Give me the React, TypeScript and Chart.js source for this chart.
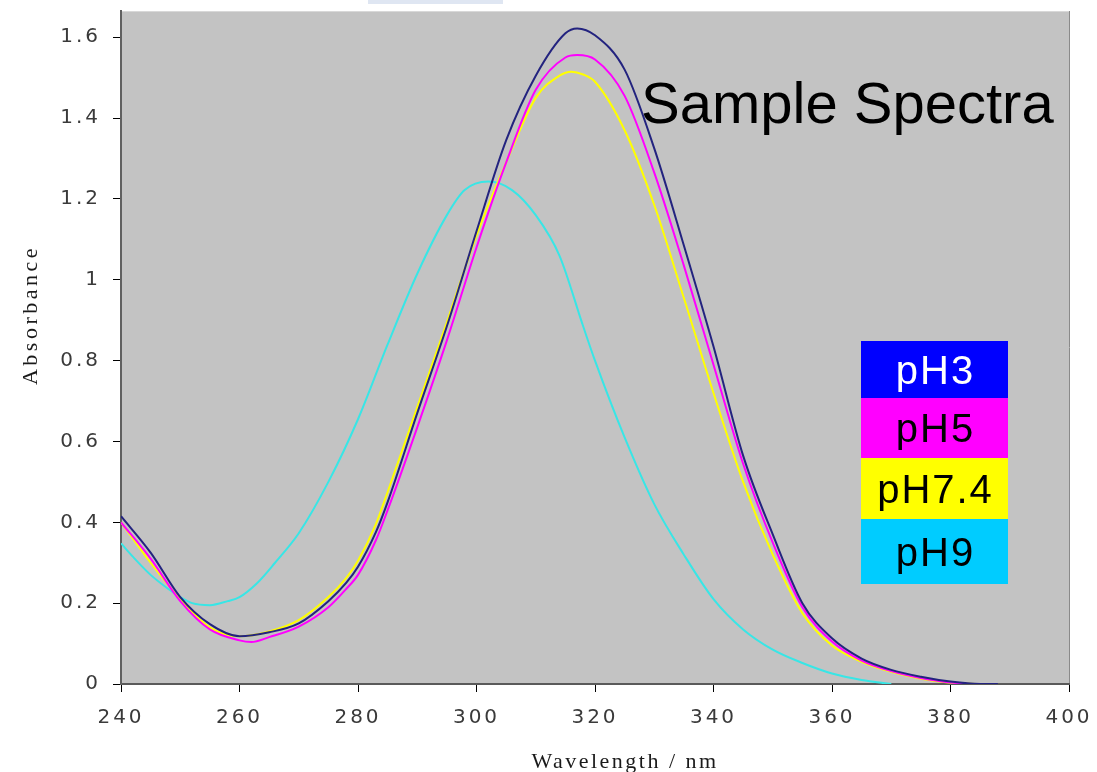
import React, { useEffect, useRef } from "react";
import { Chart, registerables } from "chart.js";

Chart.register(...registerables);

// ---- data ----
const wlPH3 = [240, 245, 250, 255, 260, 265, 270, 275, 278, 280, 283, 285, 290, 295, 300, 305, 310, 315, 317, 320, 325, 330, 335, 340, 345, 350, 355, 360, 365, 370, 375, 380, 385, 388];
const absPH3 = [0.415, 0.325, 0.215, 0.148, 0.118, 0.128, 0.15, 0.205, 0.25, 0.29, 0.375, 0.45, 0.67, 0.885, 1.12, 1.345, 1.505, 1.61, 1.622, 1.605, 1.52, 1.325, 1.085, 0.835, 0.565, 0.37, 0.2, 0.113, 0.063, 0.035, 0.018, 0.006, 0.0, 0.0];

const wlPH5 = [240, 245, 250, 255, 260, 262, 265, 270, 275, 278, 280, 283, 285, 290, 295, 300, 305, 310, 315, 317, 320, 325, 330, 335, 340, 345, 350, 355, 360, 365, 370, 375, 380, 383];
const absPH5 = [0.4, 0.31, 0.205, 0.135, 0.108, 0.104, 0.116, 0.142, 0.19, 0.235, 0.27, 0.355, 0.43, 0.635, 0.85, 1.08, 1.29, 1.47, 1.55, 1.556, 1.545, 1.455, 1.265, 1.035, 0.79, 0.545, 0.35, 0.19, 0.105, 0.058, 0.032, 0.015, 0.004, 0.0];

const wlPH74 = [240, 245, 250, 255, 260, 265, 270, 275, 278, 280, 283, 285, 290, 295, 300, 305, 310, 314, 316, 318, 320, 325, 330, 335, 340, 345, 350, 355, 360, 365, 370, 375, 380, 385];
const absPH74 = [0.4, 0.3, 0.21, 0.14, 0.118, 0.13, 0.158, 0.215, 0.262, 0.305, 0.395, 0.475, 0.685, 0.895, 1.11, 1.29, 1.45, 1.505, 1.515, 1.508, 1.49, 1.37, 1.185, 0.955, 0.72, 0.5, 0.32, 0.175, 0.095, 0.055, 0.03, 0.013, 0.003, 0.0];

const wlPH9 = [240, 242, 245, 248, 250, 252, 255, 258, 260, 263, 266, 270, 275, 280, 285, 290, 295, 298, 302, 306, 310, 314, 318, 320, 325, 330, 335, 340, 345, 350, 355, 360, 365, 370];
const absPH9 = [0.348, 0.315, 0.27, 0.235, 0.215, 0.2, 0.195, 0.205, 0.215, 0.25, 0.3, 0.373, 0.5, 0.655, 0.84, 1.015, 1.16, 1.222, 1.243, 1.222, 1.16, 1.06, 0.885, 0.8, 0.61, 0.445, 0.32, 0.21, 0.135, 0.085, 0.052, 0.026, 0.01, 0.0];

const seriesNames = ["pH3", "pH5", "pH7.4", "pH9"];
const lineColors = ["#23237f", "#ff00ff", "#ffff00", "#38e6e6"];
const legendFill = ["#0000ff", "#ff00ff", "#ffff00", "#00ccff"];
const legendText = ["#ffffff", "#000000", "#000000", "#000000"];

const xTicks = [240, 260, 280, 300, 320, 340, 360, 380, 400];
const xTickLabels = ["240", "260", "280", "300", "320", "340", "360", "380", "400"];
const yTicks = [0, 0.2, 0.4, 0.6, 0.8, 1, 1.2, 1.4, 1.6];
const yTickLabels = ["0", "0.2", "0.4", "0.6", "0.8", "1", "1.2", "1.4", "1.6"];

const chartTitle = "Sample Spectra";
const xTitle = "Wavelength / nm";
const yTitle = "Absorbance";

const toPoints = (xs: number[], ys: number[]) => xs.map((x, i) => ({ x, y: ys[i] }));

export default function App() {
  const ref = useRef<HTMLCanvasElement>(null);

  useEffect(() => {
    const canvas = ref.current;
    if (!canvas) return;

    const decor = {
      id: "decor",
      beforeDraw(chart: any) {
        const { ctx, chartArea } = chart;
        ctx.save();
        ctx.fillStyle = "#ffffff";
        ctx.fillRect(0, 0, chart.width, chart.height);
        ctx.fillStyle = "#dfe6f2";
        ctx.fillRect(368, 0, 135, 4);
        ctx.fillStyle = "#c3c3c3";
        ctx.fillRect(chartArea.left, chartArea.top, chartArea.right - chartArea.left, chartArea.bottom - chartArea.top);
        ctx.strokeStyle = "#d8d8d8";
        ctx.lineWidth = 1;
        ctx.beginPath();
        ctx.moveTo(chartArea.left, chartArea.top + 0.5);
        ctx.lineTo(chartArea.right, chartArea.top + 0.5);
        ctx.stroke();
        ctx.strokeStyle = "#8a8a8a";
        ctx.beginPath();
        ctx.moveTo(chartArea.right + 0.5, chartArea.top);
        ctx.lineTo(chartArea.right + 0.5, chartArea.bottom);
        ctx.stroke();
        ctx.restore();
        (ctx as any).letterSpacing = "3px";
      },
      afterDraw(chart: any) {
        const { ctx } = chart;
        (ctx as any).letterSpacing = "0px";
        ctx.save();
        // chart title
        ctx.fillStyle = "#000000";
        ctx.font = "58px 'Liberation Sans', Arial, sans-serif";
        ctx.textAlign = "left";
        ctx.textBaseline = "alphabetic";
        ctx.fillText(chartTitle, 641, 123);

        // legend boxes
        const bx = 861, bw = 147;
        const tops = [341, 398, 458, 519, 584];
        for (let i = 0; i < seriesNames.length; i++) {
          const t = tops[i], h = tops[i + 1] - tops[i];
          ctx.fillStyle = legendFill[i];
          ctx.fillRect(bx, t, bw, h);
          ctx.fillStyle = legendText[i];
          ctx.font = "40px 'Liberation Sans', Arial, sans-serif";
          (ctx as any).letterSpacing = "2px";
          ctx.textAlign = "center";
          ctx.textBaseline = "alphabetic";
          ctx.fillText(seriesNames[i], bx + bw / 2 + 1, t + h / 2 + 14);
        }

        // axis titles
        ctx.fillStyle = "#1a1a1a";
        ctx.font = "22px 'Liberation Serif', 'Times New Roman', serif";
        (ctx as any).letterSpacing = "2.5px";
        ctx.textAlign = "center";
        ctx.textBaseline = "alphabetic";
        ctx.fillText(xTitle, 625, 768);

        ctx.save();
        ctx.translate(31, 315);
        ctx.rotate(-Math.PI / 2);
        (ctx as any).letterSpacing = "3.5px";
        ctx.textBaseline = "middle";
        ctx.fillText(yTitle, 0, 0);
        ctx.restore();

        ctx.restore();
        (ctx as any).letterSpacing = "0px";
      },
    };

    const mk = (i: number, xs: number[], ys: number[]) => ({
      label: seriesNames[i],
      data: toPoints(xs, ys),
      borderColor: lineColors[i],
      backgroundColor: lineColors[i],
      borderWidth: 2,
      pointRadius: 0,
      fill: false,
      cubicInterpolationMode: "monotone" as const,
    });

    const tickFont = { family: "'DejaVu Sans', sans-serif", size: 20 };

    const chart = new Chart(canvas, {
      type: "line",
      data: {
        datasets: [
          mk(0, wlPH3, absPH3),
          mk(1, wlPH5, absPH5),
          mk(2, wlPH74, absPH74),
          mk(3, wlPH9, absPH9),
        ],
      },
      options: {
        responsive: false,
        animation: false,
        devicePixelRatio: 1,
        layout: { padding: { left: 0, top: 11, right: 28, bottom: 0 } },
        plugins: {
          legend: { display: false },
          tooltip: { enabled: false },
          title: { display: false },
        },
        scales: {
          x: {
            type: "linear",
            min: 240,
            max: 400,
            afterBuildTicks: (s: any) => {
              s.ticks = xTicks.map((v) => ({ value: v }));
            },
            afterFit: (s: any) => {
              s.height = 88;
              s.paddingLeft = 0;
              s.paddingRight = 0;
            },
            ticks: {
              callback: (_v: any, i: number) => xTickLabels[i],
              font: tickFont,
              color: "#3a3a3a",
              padding: 14,
              maxRotation: 0,
              autoSkip: false,
            },
            grid: { drawOnChartArea: false, drawTicks: true, tickLength: 8, color: "#000000", tickWidth: 1 },
            border: { display: true, color: "#5a5a5a", width: 2 },
          },
          y: {
            type: "linear",
            min: 0,
            max: 1.665,
            afterBuildTicks: (s: any) => {
              s.ticks = yTicks.map((v) => ({ value: v }));
            },
            afterFit: (s: any) => {
              s.width = 121;
              s.paddingTop = 0;
              s.paddingBottom = 0;
            },
            ticks: {
              callback: (_v: any, i: number) => yTickLabels[i],
              font: tickFont,
              color: "#3a3a3a",
              padding: 12,
              autoSkip: false,
            },
            grid: { drawOnChartArea: false, drawTicks: true, tickLength: 8, color: "#000000", tickWidth: 1 },
            border: { display: true, color: "#606060", width: 2 },
          },
        },
      },
      plugins: [decor],
    } as any);

    return () => chart.destroy();
  }, []);

  return (
    <div style={{ position: "absolute", left: 0, top: 0, width: 1097, height: 772, background: "#ffffff" }}>
      <canvas ref={ref} width={1097} height={772} style={{ display: "block" }} />
    </div>
  );
}
